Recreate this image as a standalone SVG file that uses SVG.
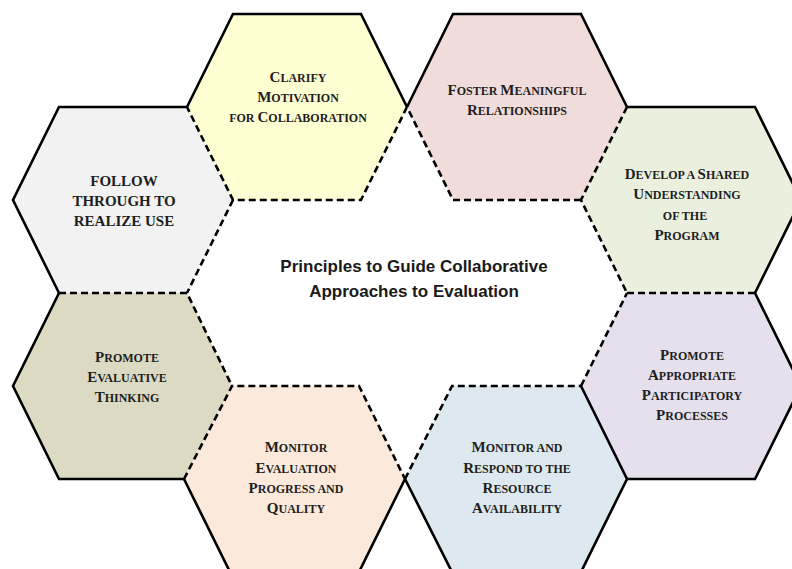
<svg xmlns="http://www.w3.org/2000/svg" width="792" height="569" viewBox="0 0 792 569">
  <style>
    .hex { stroke: none; }
    .solid { fill: none; stroke: #000; stroke-width: 2.6; stroke-linejoin: miter; }
    .dash { fill: none; stroke: #000; stroke-width: 2.6; stroke-dasharray: 7 4; }
    .lbl { font-family: "Liberation Serif", "Times New Roman", serif; font-weight: bold; font-size: 12px; fill: #1e1e1e; text-anchor: middle; }
    .lbl .b { font-size: 15px; }
    .title { font-family: "Liberation Sans", Arial, sans-serif; font-weight: bold; font-size: 17px; fill: #1a1a1a; text-anchor: middle; }
  </style>
  <rect width="792" height="569" fill="#ffffff"/>

  <!-- Follow through to realize use -->
  <g id="follow-through">
    <polygon class="hex" fill="#f2f2f2" points="13,200 59,107 187,107 233,200 187,293 59,293"/>
    <path class="solid" d="M59,293 L13,200 L59,107 L187,107"/>
    <path class="dash" d="M233,200 L187,293"/>
    <text class="lbl"><tspan class="b" x="124" y="186">FOLLOW</tspan><tspan class="b" x="124" y="206">THROUGH TO</tspan><tspan class="b" x="124" y="226">REALIZE USE</tspan></text>
  </g>

  <!-- Promote evaluative thinking -->
  <g id="promote-evaluative">
    <polygon class="hex" fill="#dddac4" points="13,386 59,293 187,293 232,386 184,479 59,479"/>
    <path class="solid" d="M184,479 L59,479 L13,386 L59,293"/>
    <path class="dash" d="M59,293 L187,293 L232,386"/>
    <text class="lbl"><tspan x="127" y="362"><tspan class="b">P</tspan>ROMOTE</tspan><tspan x="127" y="382"><tspan class="b">E</tspan>VALUATIVE</tspan><tspan x="127" y="402"><tspan class="b">T</tspan>HINKING</tspan></text>
  </g>

  <!-- Clarify motivation for collaboration -->
  <g id="clarify-motivation">
    <polygon class="hex" fill="#fefed3" points="187,107 233,14 361,14 407,107 361,200 233,200"/>
    <path class="solid" d="M187,107 L233,14 L361,14 L407,107"/>
    <path class="dash" d="M407,107 L361,200 L233,200 L187,107"/>
    <text class="lbl"><tspan x="298" y="82"><tspan class="b">C</tspan>LARIFY</tspan><tspan x="298" y="102"><tspan class="b">M</tspan>OTIVATION</tspan><tspan x="298" y="122">FOR <tspan class="b">C</tspan>OLLABORATION</tspan></text>
  </g>

  <!-- Foster meaningful relationships -->
  <g id="foster-relationships">
    <polygon class="hex" fill="#f1dcdc" points="407,107 453,14 581,14 627,107 581,200 453,200"/>
    <path class="solid" d="M407,107 L453,14 L581,14 L627,107"/>
    <path class="dash" d="M581,200 L453,200 L407,107"/>
    <text class="lbl"><tspan x="517" y="95"><tspan class="b">F</tspan>OSTER <tspan class="b">M</tspan>EANINGFUL</tspan><tspan x="517" y="115"><tspan class="b">R</tspan>ELATIONSHIPS</tspan></text>
  </g>

  <!-- Develop a shared understanding of the program -->
  <g id="shared-understanding">
    <polygon class="hex" fill="#ebf0de" points="581,200 627,107 755,107 801,200 755,293 627,293"/>
    <path class="solid" d="M627,107 L755,107 L801,200 L755,293"/>
    <path class="dash" d="M627,107 L581,200 L627,293"/>
    <text class="lbl"><tspan x="687" y="179"><tspan class="b">D</tspan>EVELOP A <tspan class="b">S</tspan>HARED</tspan><tspan x="687" y="199"><tspan class="b">U</tspan>NDERSTANDING</tspan><tspan x="685" y="220">OF THE</tspan><tspan x="687" y="240"><tspan class="b">P</tspan>ROGRAM</tspan></text>
  </g>

  <!-- Promote appropriate participatory processes -->
  <g id="participatory-processes">
    <polygon class="hex" fill="#e5e0ec" points="581,386 627,293 755,293 801,386 755,479 627,479"/>
    <path class="solid" d="M755,293 L801,386 L755,479 L627,479"/>
    <path class="dash" d="M627,293 L755,293 M581,386 L627,293"/>
    <text class="lbl"><tspan x="692" y="360"><tspan class="b">P</tspan>ROMOTE</tspan><tspan x="692" y="380"><tspan class="b">A</tspan>PPROPRIATE</tspan><tspan x="692" y="400"><tspan class="b">P</tspan>ARTICIPATORY</tspan><tspan x="692" y="420"><tspan class="b">P</tspan>ROCESSES</tspan></text>
  </g>

  <!-- Monitor evaluation progress and quality -->
  <g id="monitor-progress">
    <polygon class="hex" fill="#fbe9db" points="184,479 232,386 359,386 405,479 359,572 230,572"/>
    <path class="solid" d="M405,479 L359,572 M230,572 L184,479"/>
    <path class="dash" d="M184,479 L232,386 L359,386 L405,479"/>
    <text class="lbl"><tspan x="296" y="452"><tspan class="b">M</tspan>ONITOR</tspan><tspan x="296" y="473"><tspan class="b">E</tspan>VALUATION</tspan><tspan x="296" y="493"><tspan class="b">P</tspan>ROGRESS AND</tspan><tspan x="296" y="513"><tspan class="b">Q</tspan>UALITY</tspan></text>
  </g>

  <!-- Monitor and respond to resource availability -->
  <g id="monitor-resources">
    <polygon class="hex" fill="#dde9ef" points="405,479 452,386 581,386 627,479 581,572 452,572"/>
    <path class="solid" d="M581,386 L627,479 L581,572 M452,572 L405,479"/>
    <path class="dash" d="M405,479 L452,386 L581,386"/>
    <text class="lbl"><tspan x="517" y="452"><tspan class="b">M</tspan>ONITOR AND</tspan><tspan x="517" y="473"><tspan class="b">R</tspan>ESPOND TO THE</tspan><tspan x="517" y="493"><tspan class="b">R</tspan>ESOURCE</tspan><tspan x="517" y="513"><tspan class="b">A</tspan>VAILABILITY</tspan></text>
  </g>

  <!-- Central heading -->
  <g id="title">
    <text class="title" x="414" y="272">Principles to Guide Collaborative</text>
    <text class="title" x="414" y="297">Approaches to Evaluation</text>
  </g>
</svg>
